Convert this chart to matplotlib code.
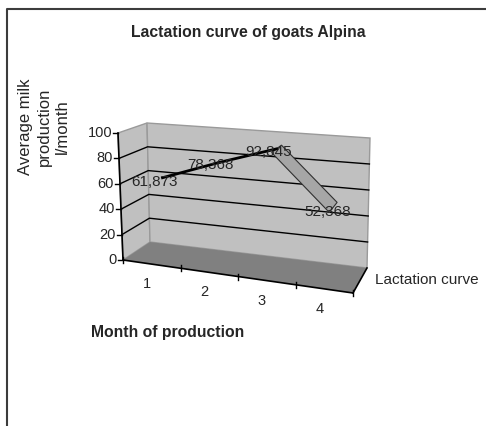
import numpy as np
import matplotlib
matplotlib.use('Agg')
import matplotlib.pyplot as plt
from matplotlib.patches import Polygon

plt.rcParams['font.family'] = ['Liberation Sans', 'DejaVu Sans']

months = [1, 2, 3, 4]
production = [61.873, 78.368, 92.845, 52.368]
value_labels = ['61,873', '78,368', '92,845', '52,368']
value_ticks = [0, 20, 40, 60, 80, 100]
label_offsets = [(-6, -3), (-6, -2), (-6, -2), (-4, -3.5)]

# coins du sol du graphique 3D, en pixels (u = mois, d = profondeur)
FL = np.array([123.0, 260.0])
FR = np.array([353.0, 293.0])
BL = np.array([150.0, 242.0])
BR = np.array([367.0, 268.0])
H_F = 127.0
H_B = 119.0
DARK = '#262626'


def proj(u, d, v):
    front = FL + (FR - FL) * u
    back = BL + (BR - BL) * u
    p = front + (back - front) * d
    h = H_F + (H_B - H_F) * d + 11.0 * u
    lean = (-5.0 + 2.0 * d) * (1 - u) + 3.0 * u
    return p[0] + lean * v / 100.0, p[1] - h * v / 100.0


def month_u(m):
    return (m - 0.5) / len(months)


fig = plt.figure(figsize=(4.86, 4.26), dpi=100)
ax = fig.add_axes([0, 0, 1, 1])
ax.set_xlim(0, 486)
ax.set_ylim(426, 0)
ax.axis('off')

# cadre : seulement en haut et a gauche
ax.plot([7, 7, 486], [426, 9, 9], color='#3c3c3c', lw=1.5)

# parois et sol
wall = '#c0c0c0'
ax.add_patch(Polygon([proj(0, 0, 0), proj(0, 1, 0), proj(0, 1, 100), proj(0, 0, 100)],
                     fc=wall, ec='#9a9a9a', lw=1))
ax.add_patch(Polygon([proj(0, 1, 0), proj(1, 1, 0), proj(1, 1, 100), proj(0, 1, 100)],
                     fc=wall, ec='#9a9a9a', lw=1))
ax.add_patch(Polygon([proj(0, 0, 0), proj(1, 0, 0), proj(1, 1, 0), proj(0, 1, 0)],
                     fc='#808080', ec='none'))

# grille
for v in value_ticks[1:-1]:
    pts = [proj(0, 0, v), proj(0, 1, v), proj(1, 1, v)]
    ax.plot(*zip(*pts), color='black', lw=1)

# axes
ax.plot(*zip(proj(0, 0, 0), proj(0, 0, 100)), color='black', lw=1.2)
ax.plot(*zip(proj(0, 0, 0), proj(1, 0, 0)), color='black', lw=1.2)
ax.plot(*zip(proj(1, 0, 0), proj(1, 1, 0)), color='black', lw=1.2)
for v in value_ticks:
    x, y = proj(0, 0, v)
    ax.plot([x - 5, x], [y, y], color='black', lw=1)
    ax.text(x - 6, y, str(v), ha='right', va='center', fontsize=10.5, color=DARK)
for i in range(len(months) + 1):
    x, y = proj(i / len(months), 0, 0)
    ax.plot([x, x], [y - 3, y + 3], color='black', lw=1)
for m in months:
    x, y = proj(month_u(m), 0, 0)
    ax.text(x - 5, y + 20, str(m), ha='center', va='center', fontsize=10.5, color=DARK)

# courbe : arete noire en montee, ruban gris en descente
d0, d1 = 0.25, 0.75
for i in range(len(months) - 1):
    u0, u1 = month_u(months[i]), month_u(months[i + 1])
    v0, v1 = production[i], production[i + 1]
    if v1 > v0:
        ax.plot(*zip(proj(u0, 0.5, v0), proj(u1, 0.5, v1)), color='black', lw=2, zorder=4)
    else:
        ax.add_patch(Polygon([proj(u0, d0, v0), proj(u1, d0, v1), proj(u1, d1, v1), proj(u0, d1, v0)],
                             fc='#a6a6a6', ec='#303030', lw=0.8, zorder=3))

for m, v, lab, off in zip(months, production, value_labels, label_offsets):
    ax.annotate(lab, xy=proj(month_u(m), 0.5, v), xytext=off, textcoords='offset points',
                ha='center', va='center', fontsize=11, color=DARK, zorder=5)

ax.text(248, 32, 'Lactation curve of goats Alpina', ha='center', va='center',
        fontsize=11.3, fontweight='bold', color=DARK)
ax.text(44, 127, 'Average milk\nproduction\nl/month', rotation=90, ha='center', va='center',
        fontsize=12, color=DARK, linespacing=1.3, multialignment='center')
ax.text(91, 332, 'Month of production', ha='left', va='center', fontsize=11.3,
        fontweight='bold', color=DARK)
ax.text(375, 280, 'Lactation curve', ha='left', va='center', fontsize=11, color=DARK)

plt.savefig('out.png', dpi=100)
